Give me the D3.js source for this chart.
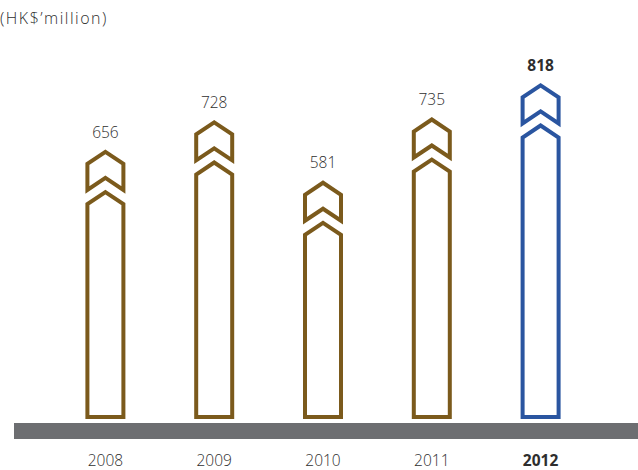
<!DOCTYPE html>
<html>
<head>
<meta charset="utf-8">
<script src="https://cdn.jsdelivr.net/npm/d3@7"></script>
<style>
  body { margin: 0; background: #fff; }
  svg { display: block; font-family: "Open Sans", Lato, sans-serif; }
  .lbl { fill: #2e2e2e; font-size: 15.5px; font-weight: 300; }
  .unit { font-size: 16px; letter-spacing: 1.5px; }
</style>
</head>
<body>
<svg width="638" height="470"></svg>
<script>
var years = ["2008", "2009", "2010", "2011", "2012"],
    values = [656, 728, 581, 735, 818],
    highlight = "2012";

var svg = d3.select("svg"),
    brown = "#7b5a1c",
    blue = "#2a55a0",
    sw = 4,
    hw = 18,   // half width of bar (centre line)
    rise = 12; // chevron rise

var x = d3.scalePoint().domain(years).range([51, 595]).padding(0.5),
    y = d3.scaleLinear().domain([0, 818]).range([419, 83]);

// unit caption
svg.append("text")
  .attr("class", "lbl unit")
  .attr("x", 0)
  .attr("y", 24)
  .text("(HK$\u2019million)");

// base band
svg.append("rect")
  .attr("x", 14)
  .attr("y", 423)
  .attr("width", 624)
  .attr("height", 16)
  .attr("fill", "#6d6e71");

function chevron(cx, t) {
  var p = d3.path();
  p.moveTo(cx, t);
  p.lineTo(cx + hw, t + rise);
  p.lineTo(cx + hw, t + rise + 26);
  p.lineTo(cx, t + 26);
  p.lineTo(cx - hw, t + rise + 26);
  p.lineTo(cx - hw, t + rise);
  p.closePath();
  return p.toString();
}

function body(cx, t, b) {
  var p = d3.path();
  p.moveTo(cx, t);
  p.lineTo(cx + hw, t + rise);
  p.lineTo(cx + hw, b);
  p.lineTo(cx - hw, b);
  p.lineTo(cx - hw, t + rise);
  p.closePath();
  return p.toString();
}

var data = years.map(function(d, i) { return {year: d, value: values[i]}; });

var g = svg.selectAll(".bar").data(data)
  .enter().append("g")
  .attr("class", "bar");

g.append("path")
  .attr("d", function(d) { return chevron(x(d.year), y(d.value) + 2.4); })
  .attr("fill", "none")
  .attr("stroke", function(d) { return d.year === highlight ? blue : brown; })
  .attr("stroke-width", sw)
  .attr("stroke-linejoin", "miter");

g.append("path")
  .attr("d", function(d) { return body(x(d.year), y(d.value) + 42.5, y(0) - sw / 2); })
  .attr("fill", "none")
  .attr("stroke", function(d) { return d.year === highlight ? blue : brown; })
  .attr("stroke-width", sw)
  .attr("stroke-linejoin", "miter");

g.append("text")
  .attr("class", "lbl")
  .attr("x", function(d) { return x(d.year); })
  .attr("y", function(d) { return y(d.value) - 12; })
  .attr("text-anchor", "middle")
  .style("font-weight", function(d) { return d.year === highlight ? "bold" : null; })
  .text(function(d) { return d.value; });

g.append("text")
  .attr("class", "lbl")
  .attr("x", function(d) { return x(d.year); })
  .attr("y", 466)
  .attr("text-anchor", "middle")
  .style("font-weight", function(d) { return d.year === highlight ? "bold" : null; })
  .text(function(d) { return d.year; });
</script>
</body>
</html>
